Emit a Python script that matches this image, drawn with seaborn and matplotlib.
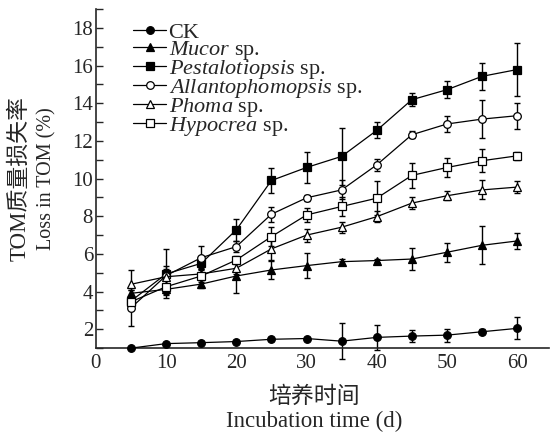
import numpy as np
import pandas as pd
import seaborn as sns
import matplotlib.pyplot as plt

sns.set_style('ticks')
plt.rcParams['font.family'] = ['Liberation Serif', 'Noto Sans CJK SC']
plt.rcParams['mathtext.fontset'] = 'custom'
plt.rcParams['mathtext.it'] = 'Liberation Serif:italic'
plt.rcParams['mathtext.rm'] = 'Liberation Serif'

# incubation days
days = [5, 10, 15, 20, 25, 30, 35, 40, 45, 50, 55, 60]

# mean TOM loss (%) and error per treatment
ck = [1.0, 1.24, 1.29, 1.35, 1.47, 1.51, 1.37, 1.57, 1.64, 1.69, 1.87, 2.05]
ck_err = [0.05, 0.08, 0.08, 0.08, 0.1, 0.1, 0.94, 0.66, 0.32, 0.35, 0.12, 0.58]

mucor = [3.91, 4.12, 4.4, 4.83, 5.15, 5.38, 5.59, 5.65, 5.73, 6.09, 6.46, 6.69]
mucor_err = [0.15, 0.3, 0.2, 0.9, 0.5, 0.66, 0.15, 0.1, 0.56, 0.5, 1.0, 0.43]

pesta = [3.5, 4.94, 5.5, 7.28, 9.9, 10.59, 11.18, 12.56, 14.19, 14.72, 15.43, 15.79]
pesta_err = [0.2, 1.3, 0.3, 0.6, 0.67, 0.8, 1.5, 0.43, 0.34, 0.44, 0.7, 1.4]

allanto = [3.14, 4.85, 5.8, 6.39, 8.11, 8.98, 9.4, 10.73, 12.33, 12.9, 13.16, 13.34]
allanto_err = [0.95, 0.5, 0.6, 0.3, 0.4, 0.15, 0.5, 0.3, 0.2, 0.45, 1.0, 0.7]

phoma = [4.39, 4.79, 4.94, 5.24, 6.27, 7.0, 7.42, 7.98, 8.7, 9.09, 9.4, 9.55]
phoma_err = [0.75, 0.4, 0.3, 0.3, 0.6, 0.35, 0.3, 0.3, 0.3, 0.25, 0.5, 0.3]

hypo = [3.46, 4.26, 4.83, 5.68, 6.92, 8.07, 8.52, 8.96, 10.17, 10.59, 10.95, 11.21]
hypo_err = [0.3, 0.4, 0.3, 0.2, 0.5, 0.35, 0.5, 0.9, 0.65, 0.5, 0.6, 0.2]

labels = ['CK', r'$\mathit{Mucor}$ sp.', r'$\mathit{Pestalotiopsis}$ sp.',
          r'$\mathit{Allantophomopsis}$ sp.', r'$\mathit{Phoma}$ sp.', r'$\mathit{Hypocrea}$ sp.']
means = [ck, mucor, pesta, allanto, phoma, hypo]
errs = [ck_err, mucor_err, pesta_err, allanto_err, phoma_err, hypo_err]
markers = ['o', '^', 's', 'o', '^', 's']
faces = ['black', 'black', 'black', 'white', 'white', 'white']

fig = plt.figure(figsize=(5.51, 4.33), dpi=100)
ax = fig.add_axes([0.174, 0.196, 0.822, 0.783])

for lab, m, e, mk, fc in zip(labels, means, errs, markers, faces):
    df = pd.DataFrame({'day': days, 'loss': m, 'err': e})
    ax.errorbar(df['day'], df['loss'], yerr=df['err'], fmt='none', ecolor='black',
                elinewidth=1.0, capsize=2.4, capthick=1.0, clip_on=False, zorder=2)
    sns.lineplot(data=df, x='day', y='loss', ax=ax, color='black', marker=mk,
                 markerfacecolor=fc, markeredgecolor='black', markersize=5.5,
                 markeredgewidth=0.9, linewidth=0.9, label=lab, clip_on=False, zorder=3)

ax.set_xlim(0, 64.5)
ax.set_ylim(1, 19)
ax.set_xticks(np.arange(0, 61, 10))
ax.set_yticks(np.arange(2, 19, 2))
ax.set_yticks(np.arange(1, 20, 2), minor=True)
ax.tick_params(axis='y', which='both', direction='in', length=5, width=1, labelsize=15, pad=2)
ax.tick_params(axis='x', length=0, labelsize=15, pad=4)
sns.despine(ax=ax)
for s in ['left', 'bottom']:
    ax.spines[s].set_linewidth(1.2)

# axis titles (Chinese + English)
ax.set_xlabel('培养时间\nIncubation time (d)', fontsize=16.5, linespacing=1.2)
ax.xaxis.set_label_coords(0.481, -0.112)
ax.set_ylabel('TOM质量损失率', fontsize=16.5)
ax.yaxis.set_label_coords(-0.145, 0.5)
ax.text(-0.108, 0.5, 'Loss in TOM (%)', transform=ax.transAxes, rotation=90,
        ha='center', va='center', fontsize=14.5)

ax.legend(loc='upper left', bbox_to_anchor=(0.082, 0.962), frameon=False, fontsize=16,
          labelspacing=-0.18, handlelength=1.5, handletextpad=0.1, borderpad=0,
          borderaxespad=0)

fig.savefig('out.png', dpi=100)
